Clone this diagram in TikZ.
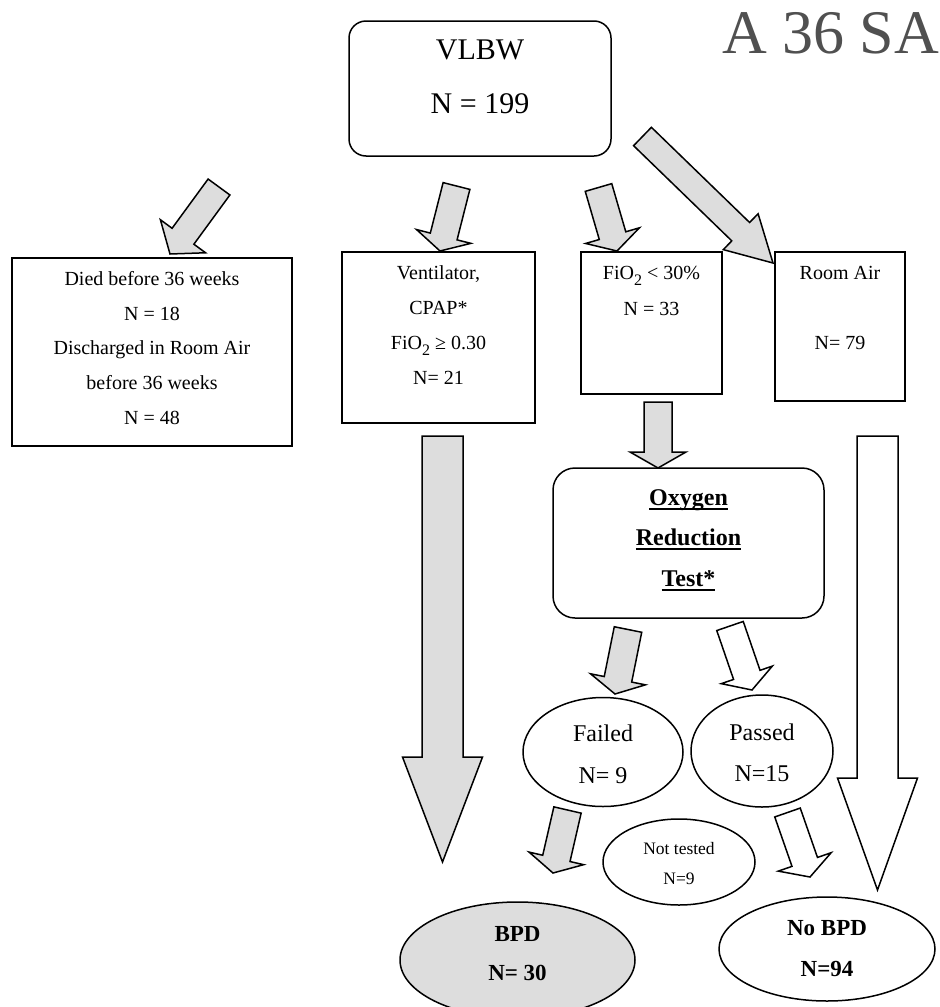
\documentclass[tikz,border=0pt]{standalone}
\usepackage{fontspec}
\setmainfont{Liberation Serif}
\usetikzlibrary{calc,shapes.geometric}
\definecolor{ag}{HTML}{DDDDDD}
\definecolor{tg}{HTML}{505050}
\newcommand\myul[1]{\setbox0\hbox{#1}\rlap{\rule[-0.17em]{\wd0}{0.065em}}\box0}
\newcommand\mysub[1]{\raisebox{-0.32em}{\fontsize{16}{16}\selectfont #1}}
% block arrow: style, tail coord, tip coord, half shaft, half head, head length
\newcommand\blockarrow[6]{%
  \coordinate (#2n) at ($(#3)!#6!(#2)$);
  \draw[#1] ($(#2)!#4!90:(#3)$) -- ($(#2n)!#4!90:(#3)$) -- ($(#2n)!#5!90:(#3)$)
    -- (#3) -- ($(#2n)!#5!-90:(#3)$) -- ($(#2n)!#4!-90:(#3)$) -- ($(#2)!#4!-90:(#3)$) -- cycle;}
\tikzset{
  box/.style={draw, line width=2.8pt, rectangle, inner sep=0pt},
  rbox/.style={draw, line width=1.5pt, rectangle, rounded corners=17pt, inner sep=0pt},
  ell/.style={draw, line width=1.5pt, ellipse, inner sep=0pt},
  garrow/.style={draw, line width=1.5pt, fill=ag, line join=miter},
  warrow/.style={draw, line width=1.5pt, fill=white, line join=miter},
  txt/.style={anchor=base, inner sep=0pt, font=\fontsize{20}{24}\selectfont},
  mtxt/.style={anchor=base, inner sep=0pt, font=\fontsize{30}{34}\selectfont},
  etxt/.style={anchor=base, inner sep=0pt, font=\fontsize{24}{28}\selectfont},
  btxt/.style={anchor=base, inner sep=0pt, font=\fontsize{23}{28}\selectfont\bfseries},
  otxt/.style={anchor=base, inner sep=0pt, font=\fontsize{24}{28}\selectfont\bfseries},
  stxt/.style={anchor=base, inner sep=0pt, font=\fontsize{17.5}{21}\selectfont},
}
\begin{document}
\begin{tikzpicture}[x=1pt,y=-1pt]
\useasboundingbox[fill=white] (0,0) rectangle (940,1007);

% header text
\node[anchor=base west, inner sep=0pt, text=tg, font=\fontsize{62}{70}\selectfont] (hdr) at (722,53) {A 36 SA};

% boxes
\node[rbox, minimum width=262pt, minimum height=135pt] (vlbw) at (480,88.5) {};
\node[box, minimum width=280pt, minimum height=188pt] (died) at (152,352) {};
\node[box, minimum width=193pt, minimum height=171pt] (vent) at (438.5,337.5) {};
\node[box, minimum width=141pt, minimum height=142pt] (fio) at (651.5,323) {};
\node[box, minimum width=130pt, minimum height=149pt] (room) at (840,326.5) {};
\node[rbox, rounded corners=22pt, minimum width=271pt, minimum height=150pt] (oxy) at (688.5,543) {};
\node[ell, minimum width=160pt, minimum height=109pt] (failed) at (603,752) {};
\node[ell, minimum width=142pt, minimum height=112pt] (passed) at (762,751) {};
\node[ell, minimum width=152pt, minimum height=86pt] (nottested) at (679,862) {};
\node[ell, fill=ag, minimum width=235pt, minimum height=116pt] (bpd) at (517.5,960) {};
\node[ell, minimum width=216pt, minimum height=104pt] (nobpd) at (827,949) {};

% texts
\node[mtxt] (tv1) at (480,59) {VLBW};
\node[mtxt] (tv2) at (480,113) {N = 199};

\node[txt] (td1) at (152,285) {Died before 36 weeks};
\node[txt] (td2) at (152,320) {N = 18};
\node[txt] (td3) at (152,354) {Discharged in Room Air};
\node[txt] (td4) at (152,389) {before 36 weeks};
\node[txt] (td5) at (152,424) {N = 48};

\node[txt] (te1) at (438.5,279) {Ventilator,};
\node[txt] (te2) at (438.5,314) {CPAP*};
\node[txt] (te3) at (438.5,349) {FiO\mysub{2} ≥ 0.30};
\node[txt] (te4) at (438.5,384) {N= 21};

\node[txt] (tf1) at (651.5,279) {FiO\mysub{2} < 30\%};
\node[txt] (tf2) at (651.5,315) {N = 33};

\node[txt] (tr1) at (840,279) {Room Air};
\node[txt] (tr2) at (840,349) {N= 79};

\node[otxt] (to1) at (688.5,505.5) {\myul{Oxygen}};
\node[otxt] (to2) at (688.5,545.5) {\myul{Reduction}};
\node[otxt] (to3) at (688.5,586.5) {\myul{Test*}};

\node[etxt] (tfa1) at (603,741) {Failed};
\node[etxt] (tfa2) at (603,783) {N= 9};
\node[etxt] (tpa1) at (762,740) {Passed};
\node[etxt] (tpa2) at (762,781) {N=15};

\node[stxt] (tn1) at (679,854) {Not tested};
\node[stxt] (tn2) at (679,884) {N=9};

\node[btxt] (tb1) at (517.5,941) {BPD};
\node[btxt] (tb2) at (517.5,980) {N= 30};
\node[btxt] (tnb1) at (827,935) {No BPD};
\node[btxt] (tnb2) at (827,976) {N=94};

% connector end points
\coordinate (a1s) at (219,187);   \coordinate (a1e) at (170,254);
\coordinate (a2s) at (456.5,186); \coordinate (a2e) at (440,251);
\coordinate (a3s) at (598.5,187.5); \coordinate (a3e) at (617,251);
\coordinate (a4s) at (642.5,136.5); \coordinate (a4e) at (773,263);
\coordinate (a5s) at (658,402);   \coordinate (a5e) at (658,468);
\coordinate (a6s) at (628,629.5); \coordinate (a6e) at (615,694);
\coordinate (a7s) at (730,626);   \coordinate (a7e) at (752,690);
\coordinate (a8s) at (442.5,436); \coordinate (a8e) at (442.5,862);
\coordinate (a9s) at (877.5,436); \coordinate (a9e) at (877.5,890);
\coordinate (a10s) at (567.5,810); \coordinate (a10e) at (553,873);
\coordinate (a11s) at (787.5,812.5); \coordinate (a11e) at (810,877);

% block arrows
\blockarrow{garrow}{a1s}{a1e}{13.5pt}{28pt}{22pt}
\blockarrow{garrow}{a2s}{a2e}{13.8pt}{28pt}{15pt}
\blockarrow{garrow}{a3s}{a3e}{13.8pt}{28pt}{16pt}
\blockarrow{garrow}{a4s}{a4e}{12.8pt}{25pt}{45pt}
\blockarrow{garrow}{a5s}{a5e}{14pt}{28pt}{16pt}
\blockarrow{garrow}{a6s}{a6e}{14pt}{28pt}{15pt}
\blockarrow{warrow}{a7s}{a7e}{14pt}{27pt}{16pt}
\blockarrow{garrow}{a8s}{a8e}{20.5pt}{40pt}{105pt}
\blockarrow{warrow}{a9s}{a9e}{20.5pt}{40pt}{112pt}
\blockarrow{garrow}{a10s}{a10e}{14pt}{28pt}{15pt}
\blockarrow{warrow}{a11s}{a11e}{13.5pt}{28pt}{16pt}
\end{tikzpicture}
\end{document}
